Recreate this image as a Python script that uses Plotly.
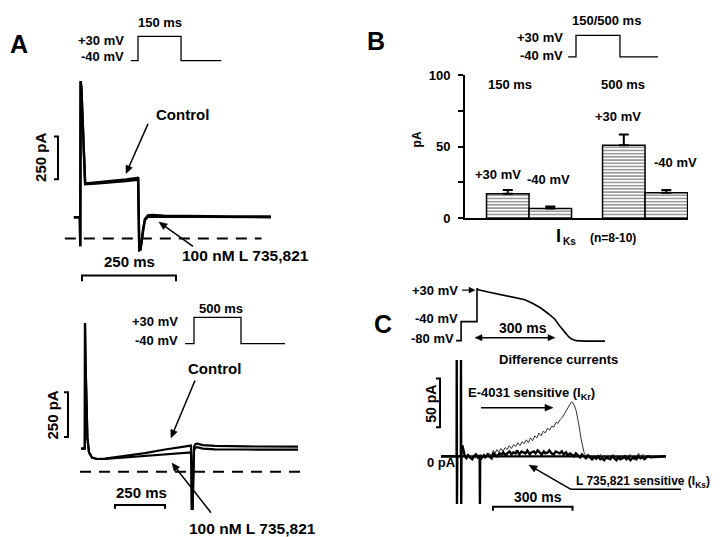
import math
import plotly.graph_objects as go

W, H = 720, 537
FONT = "Liberation Sans, Arial, sans-serif"

# ---------------- data ----------------
# Panel A, 150 ms step (time ms, current pA)
A1_T = [-19, -3, -2, -1, 1, 11, 40, 80, 120, 150, 152, 153, 155, 158, 161, 165, 170, 178, 190, 220, 300, 400, 505]
A1_CTRL = [125, 125, -45, 920, 880, 322, 328, 336, 346, 355, 358, 200, -68, -65, -20, 60, 115, 136, 138, 134, 131, 130, 130]
A1_DRUG = [125, 125, -45, 920, 880, 318, 322, 328, 336, 344, 346, 190, -68, -65, -25, 55, 108, 128, 128, 126, 125, 125, 125]
A1_ZERO_T = [-43, 480]

# Panel A, 500 ms step
A2_T = [-20, -2, -1, 0, 3, 12, 20, 35, 60, 100, 200, 300, 400, 500, 530, 532, 534, 538, 541, 545, 552, 560, 590, 650, 800, 1065]
A2_CTRL = [130, 130, 140, 832, 600, 190, 110, 80, 72, 74, 88, 105, 125, 142, 147, 40, -207, -207, 60, 140, 155, 158, 150, 145, 142, 141]
A2_DRUG = [130, 130, 140, 832, 600, 190, 110, 80, 72, 72, 80, 90, 100, 107, 109, 20, -207, -207, 50, 120, 135, 138, 130, 126, 125, 124]
A2_ZERO_T = [-25, 1105]

# Voltage protocols (ms, mV)
P150_T = [-25, 0, 0, 150, 150, 290]
P500_T = [-96, 0, 0, 500, 500, 968]
PB_T = [-27, 0, 0, 150, 150, 280]
P_MV = [-40, -40, 30, 30, -40, -40]

# Panel B
B_CATS = ["150 ms", "500 ms"]
B_P30 = [17.0, 51.0]
B_P30_ERR = [2.7, 7.5]
B_M40 = [6.8, 17.7]
B_M40_ERR = [1.4, 2.0]
B_TICKS = [0, 50, 100]
B_MINOR_TICKS = [25, 75]

# Panel C action potential (ms, mV)
AP_T = [-79, -60, -60, 0, 0, 5, 42, 79, 136, 181, 211, 242, 268, 294, 313, 332, 343, 355, 374, 408, 483]
AP_MV = [-80, -80, -40, -40, 30, 27, 22, 18, 12, 6, -2, -12, -23, -35, -50, -64, -70, -76, -80, -81, -81]

# Panel C difference currents (ms, pA)
IKS_T = [-136, -77, -76.5, -75.5, -74.5, -61, -60.5, -59.5, -58.5, -55, -50, -46,
         -40, -33, -27, -18, -12, -4, 3, 9, 10, 11, 12, 17, 26, 31, 40, 47, 55, 61,
         70, 76, 85, 93, 99, 108, 114, 123, 130, 137, 146, 151, 160, 168, 175, 183,
         190, 199, 205, 214, 221, 229, 236, 244, 252, 258, 267, 273, 282, 290, 297,
         305, 312, 320, 327, 336, 342, 351, 358, 366, 373, 381, 389, 396, 404, 411,
         419, 427, 434, 442, 449, 457, 465, 472, 480, 487, 495, 503, 510, 518, 526,
         533, 541, 548, 556, 564, 571, 579, 586, 594, 602, 609, 617, 624, 632, 640,
         647, 655, 713]
IKS_PA = [0, 0, 99, -49, 0, 0, 99, -49, 10, 11, 4, 0,
          -2, 1, -1, -3, 0, 2, -1, 1, 0, -49, 0, -2, 1, -1, 2, 0, -2, 3,
          1, 0, 3, 2, 4, 1, 3, 5, 2, 4, 3, 6, 2, 5, 4, 3,
          6, 2, 4, 5, 3, 6, 4, 2, 5, 3, 4, 6, 3, 2, 5,
          4, 3, 5, 2, 4, 1, 3, 2, 0, 3, 1, -1, 2, 0, -2,
          1, -1, -3, -1, -2, 0, -3, -2, -4, -1, -2, -3, 0, -2, -4,
          -1, -3, -2, 0, -3, -1, -4, -2, -1, -3, 0, -2, -1, -3, -1,
          0, -1, 0]
IKR_T = [-45, -35, -25, -15, -5, 5, 15, 25, 35, 45, 55, 62, 68, 75, 82, 90, 98, 106,
         114, 122, 130, 138, 146, 154, 162, 170, 178, 186, 194, 202, 210, 218, 226,
         234, 242, 250, 258, 266, 274, 282, 290, 298, 306, 314, 322, 330, 338, 344,
         350, 356, 362, 368, 374, 380, 386, 392, 398, 404, 410, 418, 426, 434, 442,
         450, 458, 466, 474, 482, 490, 498, 506, 514, 522, 530, 538, 546, 554, 562,
         570, 578, 586, 594, 602, 610, 618, 626, 634, 642, 650, 657]
IKR_PA = [0, 2, -1, 1, -2, 0, 2, -1, 1, 3, 1, 6, 3, 7, 4, 8, 5, 9,
          7, 11, 8, 12, 10, 14, 11, 15, 13, 17, 14, 19, 16, 21, 19,
          24, 21, 26, 24, 29, 27, 31, 30, 35, 34, 38, 40, 44, 47, 51,
          54, 56, 55, 52, 47, 40, 30, 19, 10, 4, 1, -2, 1, -3, 0,
          -4, -1, 2, -2, 1, -3, 0, -2, 2, -3, 1, -2, 0, -3, 1,
          -2, 2, -1, -4, 0, 3, -1, 2, -2, 1, -1, 1]
C_ZERO_T = [-136, 713]

# ---------------- helpers (pixel layout) ----------------
def X(px):
    return px / W

def Y(py):
    return 1 - py / H

def haxis(lo, hi, origin, k):
    return dict(domain=[X(lo), X(hi)], range=[(lo - origin) / k, (hi - origin) / k])

def vaxis(top, bottom, origin, k):
    return dict(domain=[Y(bottom), Y(top)], range=[(origin - bottom) / k, (origin - top) / k])

HID = dict(visible=False, showgrid=False, zeroline=False, fixedrange=True)

# scales (px per unit)
A1_KX, A1_KY = 0.376, 0.176
A2_KX, A2_KY = 0.200, 0.184
C_KX, C_KY = 0.265, 1.0

layout_axes = {}
def add_axes(n, xa, ya, hidden=True):
    xn = "xaxis" if n == 1 else f"xaxis{n}"
    yn = "yaxis" if n == 1 else f"yaxis{n}"
    xs = "x" if n == 1 else f"x{n}"
    ys = "y" if n == 1 else f"y{n}"
    xa = dict(xa, anchor=ys)
    ya = dict(ya, anchor=xs)
    if hidden:
        xa.update(HID)
        ya.update(HID)
    layout_axes[xn] = xa
    layout_axes[yn] = ya
    return xs, ys

ax1 = add_axes(1, haxis(40, 285, 73, A1_KX), vaxis(55, 252, 230, A1_KY))
ax2 = add_axes(2, haxis(40, 305, 77, A2_KX), vaxis(300, 515, 470, A2_KY))
ax3 = add_axes(3, haxis(115, 220, 130, 0.287), vaxis(15, 55, 47 - 40 * 0.357, 0.357))
ax4 = add_axes(4, haxis(170, 285, 186, 0.094), vaxis(300, 345, 338 - 40 * 0.386, 0.386))
ax5 = add_axes(5, haxis(555, 655, 568, 0.293), vaxis(15, 50, 43 - 40 * 0.314, 0.314))
ax7 = add_axes(7, haxis(440, 605, 469, C_KX), vaxis(275, 340, 295.8, 0.49))
ax8 = add_axes(8, haxis(425, 665, 469, C_KX), vaxis(350, 512, 454, C_KY))

# bar chart axes (visible)
bx = dict(domain=[X(457), X(680)], range=[-0.552, 1.37], type="category",
          showline=True, linecolor="black", linewidth=2, ticks="", showticklabels=False,
          tickmode="array", tickvals=[], ticktext=[],
          showgrid=False, zeroline=False, fixedrange=True)
by = dict(domain=[Y(209), Y(62)], range=[0, 100], showline=True, linecolor="black",
          linewidth=2, ticks="outside", ticklen=5, tickwidth=2, tickcolor="black",
          tickvals=B_TICKS, ticktext=[f"<b>{t}</b>" for t in B_TICKS],
          minor=dict(tickvals=B_MINOR_TICKS, ticks="outside", ticklen=5, tickwidth=2,
                     tickcolor="black", showgrid=False),
          tickfont=dict(family=FONT, size=13, color="black"), ticklabelstandoff=5,
          showgrid=False, zeroline=False, fixedrange=True)
ax6 = add_axes(6, bx, by, hidden=False)

fig = go.Figure()

def line(xs, ys, ax, width, color="black", dash=None):
    fig.add_trace(go.Scatter(x=xs, y=ys, xaxis=ax[0], yaxis=ax[1], mode="lines",
                             line=dict(color=color, width=width, dash=dash),
                             hoverinfo="skip", showlegend=False, cliponaxis=False))

# Panel A traces
line(A1_ZERO_T, [0] * len(A1_ZERO_T), ax1, 2, dash="11px,8px")
line(A1_T, A1_DRUG, ax1, 2.4)
line(A1_T, A1_CTRL, ax1, 2.4)
line(A2_ZERO_T, [0] * len(A2_ZERO_T), ax2, 2, dash="11px,8px")
line(A2_T, A2_DRUG, ax2, 2.2)
line(A2_T, A2_CTRL, ax2, 2.2)
# protocols
line(P150_T, P_MV, ax3, 1.3)
line(P500_T, P_MV, ax4, 1.3)
line(PB_T, P_MV, ax5, 1.3)
# AP
line(AP_T, AP_MV, ax7, 1.6)
# difference currents
line(C_ZERO_T, [0, 0], ax8, 2.2)
line(IKR_T, IKR_PA, ax8, 1.0, color="#333333")
line(IKS_T, IKS_PA, ax8, 2.4)

# Panel B bars
pat = dict(shape="-", fgcolor="black", bgcolor="white", size=3.2, solidity=0.4)
for vals, errs in [(B_P30, B_P30_ERR), (B_M40, B_M40_ERR)]:
    fig.add_trace(go.Bar(x=B_CATS, y=vals, xaxis=ax6[0], yaxis=ax6[1],
                         marker=dict(color="white", pattern=pat,
                                     line=dict(color="black", width=1.5)),
                         error_y=dict(type="data", array=errs, arrayminus=[0] * len(errs),
                                      symmetric=False, color="black", thickness=2, width=5),
                         hoverinfo="skip", showlegend=False))

# ---------------- annotations & shapes ----------------
ann = []
shapes = []

def text(px, py, s, size=13, xanchor="center", angle=0, bold=True):
    ann.append(dict(x=X(px), y=Y(py), xref="paper", yref="paper", text=f"<b>{s}</b>" if bold else s,
                    showarrow=False, xanchor=xanchor, yanchor="middle", textangle=angle,
                    font=dict(family=FONT, size=size, color="black")))

def path(points, width=2, fill=None, close=False):
    d = "M " + " L ".join(f"{X(px):.5f},{Y(py):.5f}" for px, py in points)
    if close:
        d += " Z"
    s = dict(type="path", path=d, xref="paper", yref="paper",
             line=dict(color="black", width=width))
    if fill:
        s["fillcolor"] = fill
    shapes.append(s)

def head(hx, hy, fx, fy, length=8, half=3.5):
    dx, dy = hx - fx, hy - fy
    n = math.hypot(dx, dy)
    ux, uy = dx / n, dy / n
    bx_, by_ = hx - ux * length, hy - uy * length
    px_, py_ = -uy, ux
    path([(hx, hy), (bx_ + px_ * half, by_ + py_ * half), (bx_ - px_ * half, by_ - py_ * half)],
         width=0.5, fill="black", close=True)
    return bx_ + ux * 1.0, by_ + uy * 1.0

def arrow(hx, hy, tx, ty, width=1.5, both=False, length=8, half=3.5):
    ex, ey = head(hx, hy, tx, ty, length, half)
    sx, sy = tx, ty
    if both:
        sx, sy = head(tx, ty, hx, hy, length, half)
    path([(sx, sy), (ex, ey)], width=width)

# panel letters
text(11, 30, "A", size=25)
text(368, 27, "B", size=25)
text(375, 318, "C", size=25)

# A1
text(152, 8, "150 ms")
text(118, 26, "+30 mV", xanchor="right")
text(118, 43, "-40 mV", xanchor="right")
text(174, 102, "Control", size=15)
arrow(118, 163, 140, 112)
text(33, 147, "250 pA", size=15, angle=-90)
text(121, 254, "250 ms", size=15)
text(237, 247, "100 nM L 735,821", size=15.5)
arrow(151, 213, 185, 238)

# A2
text(213, 302, "500 ms")
text(172, 315, "+30 mV", xanchor="right")
text(172, 335, "-40 mV", xanchor="right")
text(207, 364, "Control", size=15)
arrow(163, 435, 187, 376)
text(44, 412, "250 pA", size=15, angle=-90)
text(133, 491, "250 ms", size=15)
text(244, 528, "100 nM L 735,821", size=15.5)
arrow(164, 461, 203, 512)

# B
text(598, 6, "150/500 ms")
text(557, 23, "+30 mV", xanchor="right")
text(557, 42, "-40 mV", xanchor="right")
text(409, 128, "pA", size=12, angle=-90)
text(502, 71, "150 ms")
text(615, 71, "500 ms")
text(490, 164, "+30 mV")
text(540, 169, "-40 mV")
text(610, 104, "+30 mV")
text(667, 152, "-40 mV")
text(550, 227, "I", size=18)
text(553, 233, "Ks", size=10, xanchor="left")
text(605, 229, "(n=8-10)", size=12)

# C
text(452, 283, "+30 mV", xanchor="right")
arrow(467, 283, 454, 283, width=1.2, length=6, half=3)
text(452, 312, "-40 mV", xanchor="right")
text(448, 333, "-80 mV", xanchor="right")
text(515, 322, "300 ms", size=14)
arrow(547, 332, 467, 332, width=1.3, both=True, length=7, half=3.2)
text(550, 354, "Difference currents")
text(423, 400, "50 pA", size=14, angle=-90)
text(523, 389, "E-4031 sensitive (I<sub>Kr</sub>)")
arrow(545, 404, 473, 404)
text(433, 460, "0 pA")
text(566, 480, "L 735,821 sensitive (I<sub>Ks</sub>)", size=12, xanchor="left")
arrow(521, 463, 563, 488)
text(530, 496, "300 ms", size=14)

# scale bars
def vbar(x, ybottom, length, tick=4):
    path([(x - tick, ybottom - length), (x, ybottom - length), (x, ybottom), (x - tick, ybottom)])

def hbar(y, x0, length, tick=6):
    path([(x0, y + tick), (x0, y), (x0 + length, y), (x0 + length, y + tick)])

vbar(50, 169, 250 * A1_KY)
hbar(268, 74, 250 * A1_KX)
vbar(60, 434, 250 * A2_KY)
hbar(504, 107, 250 * A2_KX, tick=4)
vbar(432, 424, 50 * C_KY)
hbar(506, 485, 300 * C_KX, tick=4)
path([(563, 488), (673, 488)], width=1.5)

fig.update_layout(width=W, height=H, autosize=False, margin=dict(l=0, r=0, t=0, b=0),
                  paper_bgcolor="white", plot_bgcolor="rgba(0,0,0,0)",
                  barmode="group", bargap=0.267, bargroupgap=0,
                  showlegend=False, annotations=ann, shapes=shapes, **layout_axes)

fig.write_html("out.html")
